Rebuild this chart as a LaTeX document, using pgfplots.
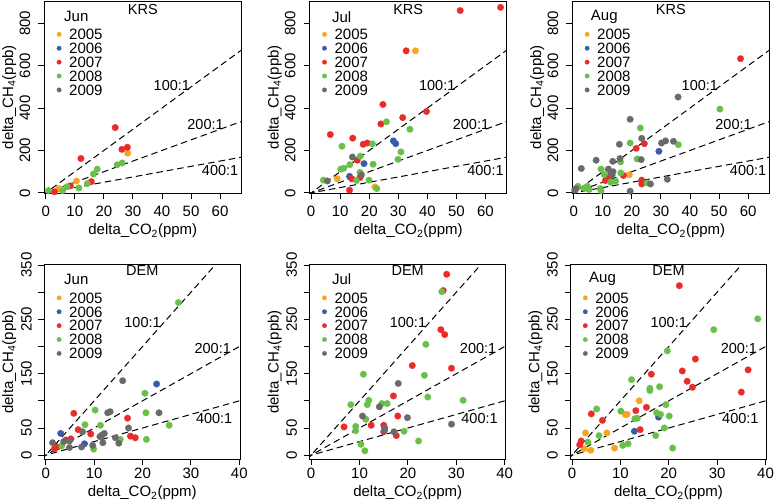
\documentclass[border=0pt]{standalone}
\usepackage{fontspec}
\setmainfont{Liberation Sans}
\usepackage{pgfplots}
\pgfplotsset{compat=1.18}
\newcommand\fs[1]{\fontsize{#1}{#1}\selectfont}
\definecolor{cA}{HTML}{F7A520}
\definecolor{cB}{HTML}{3B5BA8}
\definecolor{cC}{HTML}{EC2A2A}
\definecolor{cD}{HTML}{68C04A}
\definecolor{cE}{HTML}{6A6A6A}
\pgfplotsset{
  base/.style={
    scale only axis, anchor=south west,
    axis line style={line width=0.9pt, black},
    every tick/.style={black, line width=0.9pt},
    tick align=outside, major tick length=6pt,
    xtick pos=lower, ytick pos=left,
    /pgf/number format/assume math mode=true,
    /pgf/number format/1000 sep={},
    tick label style={font=\fs{15}},
    yticklabel style={rotate=90, anchor=south},
    xlabel={delta\_CO\textsubscript{2}(ppm)},
    ylabel={delta\_CH\textsubscript{4}(ppb)},
    label style={font=\fs{15}},
    legend style={draw=none, fill=none, at={(0,1)}, anchor=north west,
      xshift=12.5pt, yshift=-28pt, inner sep=0pt, outer sep=0pt, row sep=3.2pt,
      font=\fs{15}, nodes={inner sep=0pt, text height=10.7pt, text depth=0pt},
      /tikz/every odd column/.append style={column sep=7.8pt}},
    legend cell align=left,
    legend image code/.code={\draw[##1] plot coordinates {(0pt,0pt)};},
  },
  toprow/.style={base, width=197pt, height=192.5pt,
    xmin=-0.5, xmax=67.3, ymin=-3, ymax=905,
    xtick={0,10,...,60}, ytick={0,200,...,800},
    xticklabel shift=3.1pt, yticklabel shift=4.6pt,
    xlabel style={at={(axis description cs:0.5,-0.1948)}, anchor=center},
    ylabel style={at={(axis description cs:-0.1777,0.5)}, anchor=center},
  },
  botrow/.style={base, width=196pt, height=195pt,
    xmin=-0.3, xmax=40.2, ymin=-8, ymax=351,
    xtick={0,10,...,40}, ytick={0,50,...,350},
    yticklabels={0,50,{},150,{},250,{},350},
    xticklabel shift=-0.9pt, yticklabel shift=3.1pt,
    xlabel style={at={(axis description cs:0.5,-0.1718)}, anchor=center},
    ylabel style={at={(axis description cs:-0.1786,0.5)}, anchor=center},
  },
  pts/.style={color=#1, only marks, mark=*, mark size=3.35pt, mark options={solid, fill=#1, draw=#1, line width=0.1pt}, forget plot},
  leg/.style={color=#1, only marks, mark=*, mark size=2.3pt, mark options={solid, fill=#1, draw=#1, line width=0.1pt}},
  ref/.style={black, line width=1pt, dash pattern=on 6.5pt off 4pt, forget plot},
}
\newcommand\legendentries{%
  \addlegendimage{leg=cA}\addlegendentry{2005}
  \addlegendimage{leg=cB}\addlegendentry{2006}
  \addlegendimage{leg=cC}\addlegendentry{2007}
  \addlegendimage{leg=cD}\addlegendentry{2008}
  \addlegendimage{leg=cE}\addlegendentry{2009}}
\newcommand\toplines{%
  \addplot[ref] coordinates {(-1,-10) (70,700)};
  \addplot[ref] coordinates {(-1,-5) (70,350)};
  \addplot[ref] coordinates {(-1,-2.5) (70,175)};
  \node[font=\fs{14.5}] at (axis cs:43.4,504) {100:1};
  \node[font=\fs{14.5}] at (axis cs:55,324) {200:1};
  \node[font=\fs{14.5}] at (axis cs:60,104) {400:1};}
\newcommand\botlines{%
  \addplot[ref] coordinates {(-1,-10) (41,410)};
  \addplot[ref] coordinates {(-1,-5) (41,205)};
  \addplot[ref] coordinates {(-1,-2.5) (41,102.5)};
  \node[font=\fs{14.5}] at (axis cs:20,244) {100:1};
  \node[font=\fs{14.5}] at (axis cs:34.5,196.5) {200:1};
  \node[font=\fs{14.5}] at (axis cs:34.8,67.5) {400:1};}
\newcommand\toptitle[2]{%
  \node[font=\fs{14.5}] at (rel axis cs:0.5,1) [yshift=-8.3pt] {#1};
  \node[font=\fs{15}] at (rel axis cs:0,1) [xshift=32pt, yshift=-15.7pt] {#2};}
\newcommand\bottitle[2]{%
  \node[font=\fs{14.5}] at (rel axis cs:0.5,1) [yshift=-6.5pt] {#1};
  \node[font=\fs{15}] at (rel axis cs:0,1) [xshift=32pt, yshift=-14.8pt] {#2};}
\begin{document}
\begin{tikzpicture}
\useasboundingbox (0,0) rectangle (774pt,503pt);
% ---------------- KRS Jun
\begin{axis}[toprow, at={(44.3pt,309.5pt)}]
\toplines
\addplot[pts=cA] coordinates {(4.5,20) (10.6,56) (28.2,187)};
\addplot[pts=cC] coordinates {(3,5) (8.5,33) (12.1,162) (15.7,53) (23.9,308) (26.2,205) (28.1,215)};
\addplot[pts=cD] coordinates {(0.9,11) (5.8,10) (7.3,29) (11.4,23) (14.3,44) (16.4,89) (17.7,112) (24.6,133) (26.3,141)};
\legendentries
\toptitle{KRS}{Jun}
\end{axis}
% ---------------- KRS Jul
\begin{axis}[toprow, at={(309.7pt,309.5pt)}]
\toplines
\addplot[pts=cA] coordinates {(9,67) (21.9,28) (35.9,670)};
\addplot[pts=cB] coordinates {(28.3,245) (29.1,232) (18.2,138) (13.2,78)};
\addplot[pts=cC] coordinates {(51.3,860) (65.2,875) (32.7,670) (39.7,384) (31.5,355) (24.7,417) (24,325) (6.6,275) (14.3,258) (17.9,229) (19.3,235) (15.9,154) (14,66) (16.8,72) (13.2,13)};
\addplot[pts=cD] coordinates {(25.9,335) (34,300) (21.1,231) (10.6,220) (30.9,193) (16.9,173) (29.9,158) (21.3,135) (13.3,133) (10.2,112) (11.2,116) (16.8,97) (4.2,60) (15.6,58) (19.9,60) (22.6,20)};
\addplot[pts=cE] coordinates {(14.2,169) (17.3,85) (5.6,56)};
\legendentries
\toptitle{KRS}{Jul}
\end{axis}
% ---------------- KRS Aug
\begin{axis}[toprow, at={(572.3pt,309.5pt)}]
\toplines
\addplot[pts=cA] coordinates {(19.1,85)};
\addplot[pts=cB] coordinates {(29.3,196)};
\addplot[pts=cC] coordinates {(57.4,633) (24.3,232) (21.5,210) (17.1,82) (11.7,72) (10.9,58) (23.4,60) (23.4,42)};
\addplot[pts=cD] coordinates {(50.3,395) (22.9,306) (19.4,235) (36,227) (21.8,160) (16.1,146) (9.4,112) (10.5,86) (12.7,50) (14.4,55) (16.2,94) (25.2,47) (1.4,31) (4.7,31) (5.3,16) (9.1,20) (9.4,10) (3.5,22)};
\addplot[pts=cE] coordinates {(35.9,452) (19.4,347) (23.4,257) (30.2,235) (31.6,245) (34.3,243) (15.7,229) (23.2,157) (13.4,149) (15.9,162) (7.7,154) (2.6,115) (11.9,112) (12.8,92) (13.5,100) (13.2,84) (26.4,42) (32.2,64) (19.4,8) (0.3,13) (0.8,20)};
\legendentries
\toptitle{KRS}{Aug}
\end{axis}
% ---------------- DEM Jun
\begin{axis}[botrow, at={(44.3pt,43.5pt)}]
\botlines
\addplot[pts=cB] coordinates {(22.9,131) (3.1,40) (8.0,21)};
\addplot[pts=cC] coordinates {(5.8,77) (16.9,68) (6.7,47) (9.3,39) (17.5,35) (18.5,32) (1.8,12) (2.4,15) (4.2,28) (5.2,30)};
\addplot[pts=cD] coordinates {(27.4,281) (20.5,114) (10.2,83) (20.7,78) (8.1,56) (11.3,55) (25.5,55) (20.8,29) (15.4,29) (3.3,17) (9.9,11)};
\addplot[pts=cE] coordinates {(15.9,137) (12.8,78) (13.3,80) (23.4,78) (7.6,43) (17.1,50) (11.6,37) (12.1,40) (11.2,34) (14.4,32) (15.1,22) (1.4,23) (4.9,26) (3.7,25) (7.4,15) (4.9,14) (9.7,18) (11.8,23)};
\legendentries
\bottitle{DEM}{Jun}
\end{axis}
% ---------------- DEM Jul
\begin{axis}[botrow, at={(309.7pt,43.5pt)}]
\botlines
\addplot[pts=cC] coordinates {(28,333) (27.3,303) (26.8,231) (27.6,222) (20.9,165) (29,160) (17,109) (17.9,72) (6.8,52) (12.4,55) (15,55) (15,43) (17.6,36)};
\addplot[pts=cD] coordinates {(27,301) (23.7,204) (10.8,149) (23.4,147) (24.1,107) (31.4,101) (11.9,101) (11.6,93) (14.6,95) (15.7,95) (8.2,93) (11.3,66) (9.2,53) (9.2,45) (19.2,44) (10.3,20) (11.1,8) (22.2,26)};
\addplot[pts=cE] coordinates {(18,132) (14.1,89) (10.6,72) (19.9,69) (15.2,50) (15.2,46) (17.1,43) (29,57)};
\legendentries
\bottitle{DEM}{Jul}
\end{axis}
% ---------------- DEM Aug
\begin{axis}[botrow, at={(570.5pt,43.5pt)}]
\botlines
\addplot[pts=cA] coordinates {(2.8,41) (7.2,41) (3.9,9) (2.5,12) (8.8,13) (13.9,100) (11.0,75) (11.4,75)};
\addplot[pts=cB] coordinates {(17.9,70) (12.9,44)};
\addplot[pts=cC] coordinates {(22.2,312) (25.5,177) (36.4,157) (22.8,155) (23.8,136) (24.9,125) (35,116) (16.4,149) (15.4,88) (13.2,82) (4,76) (6.3,64) (14.1,47) (1.9,26) (1.6,19)};
\addplot[pts=cD] coordinates {(38.4,251) (29.3,231) (19.7,192) (12.3,139) (16.1,123) (16.1,119) (18.1,126) (19.4,93) (10.1,81) (5.1,85) (13,67) (13.5,68) (17.5,78) (18.3,75) (20.1,72) (19.1,50) (17.3,36) (20.8,13) (5.6,36) (3.3,24) (10.5,18) (11.6,21)};
\legendentries
\bottitle{DEM}{Aug}
\end{axis}
\end{tikzpicture}
\end{document}
